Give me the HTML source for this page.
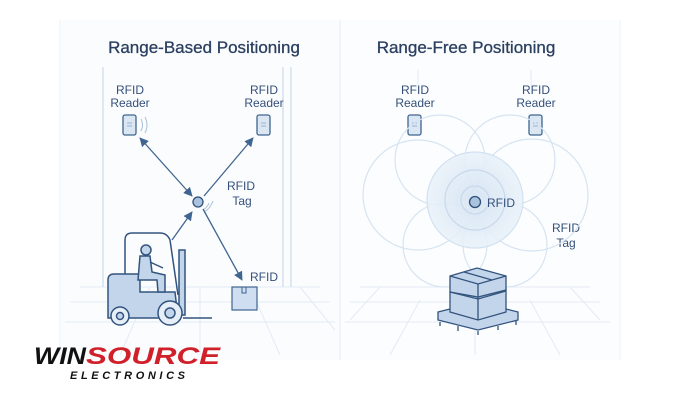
<!DOCTYPE html>
<html><head><meta charset="utf-8"><style>
html,body{margin:0;padding:0;background:#fff;}
svg{display:block;font-family:"Liberation Sans",sans-serif;}
</style></head><body>
<svg width="700" height="400" viewBox="0 0 700 400" xmlns="http://www.w3.org/2000/svg">
<defs>
<marker id="a" viewBox="0 0 10 10" refX="9" refY="5" markerWidth="7" markerHeight="7" orient="auto-start-reverse"><path d="M0,0 L10,5 L0,10 z" fill="#3f6590"/></marker>
<radialGradient id="g"><stop offset="0" stop-color="#d5e4f3"/><stop offset="1" stop-color="#eaf2fa"/></radialGradient>
</defs>
<rect width="700" height="400" fill="#fff"/>
<rect x="60" y="20" width="280" height="340" fill="#fbfcfe"/>
<rect x="340" y="20" width="280" height="340" fill="#fcfdfe"/>
<line x1="60" y1="20" x2="60" y2="360" stroke="#eef2f8"/>
<line x1="340" y1="20" x2="340" y2="360" stroke="#e6edf6"/>
<line x1="620" y1="20" x2="620" y2="360" stroke="#eef2f8"/>
<g stroke="#e3ebf5" stroke-width="1">
<line x1="80" y1="287" x2="320" y2="287"/><line x1="70" y1="302" x2="330" y2="302"/><line x1="65" y1="322" x2="335" y2="322"/>
<line x1="200" y1="287" x2="200" y2="355"/><line x1="150" y1="287" x2="120" y2="355"/><line x1="250" y1="287" x2="280" y2="355"/><line x1="300" y1="287" x2="335" y2="330"/>
<line x1="360" y1="287" x2="590" y2="287"/><line x1="350" y1="302" x2="600" y2="302"/><line x1="345" y1="322" x2="610" y2="322"/>
<line x1="475" y1="330" x2="475" y2="355"/><line x1="420" y1="300" x2="390" y2="355"/><line x1="530" y1="300" x2="560" y2="355"/><line x1="380" y1="287" x2="350" y2="320"/><line x1="570" y1="287" x2="600" y2="320"/>
</g>
<g stroke="#dfe7f2" stroke-width="2"><line x1="103" y1="67" x2="103" y2="287"/><line x1="283" y1="67" x2="283" y2="287"/><line x1="291" y1="67" x2="291" y2="287"/></g>
<line x1="418" y1="70" x2="418" y2="85" stroke="#e3ebf5"/><line x1="531" y1="70" x2="531" y2="85" stroke="#e3ebf5"/>
<text x="204" y="53" text-anchor="middle" font-size="17" fill="#2b3f60" stroke="#2b3f60" stroke-width="0.3">Range-Based Positioning</text>
<text x="466" y="53" text-anchor="middle" font-size="17" fill="#2b3f60" stroke="#2b3f60" stroke-width="0.3">Range-Free Positioning</text>
<g font-size="12" fill="#35507a" text-anchor="middle">
<text x="130" y="94">RFID</text><text x="130" y="107">Reader</text>
<text x="264" y="94">RFID</text><text x="264" y="107">Reader</text>
<text x="241" y="190">RFID</text><text x="242" y="205">Tag</text>
<text x="264" y="281">RFID</text>
<text x="415" y="94">RFID</text><text x="415" y="107">Reader</text>
<text x="536" y="94">RFID</text><text x="536" y="107">Reader</text>
<text x="566" y="232">RFID</text><text x="566" y="247">Tag</text>
</g>
<g fill="#dbe6f3" stroke="#3f6590" stroke-width="1.3">
<rect x="123" y="115" width="13" height="20" rx="2"/><rect x="257" y="115" width="13" height="20" rx="2"/>
<rect x="408" y="115" width="13" height="20" rx="2"/><rect x="529" y="115" width="13" height="20" rx="2"/>
</g>
<g stroke="#8aa6c6" stroke-width="0.8"><line x1="127" y1="123" x2="132" y2="123"/><line x1="127" y1="126" x2="132" y2="126"/><line x1="261" y1="123" x2="266" y2="123"/><line x1="261" y1="126" x2="266" y2="126"/><line x1="412" y1="123" x2="417" y2="123"/><line x1="412" y1="126" x2="417" y2="126"/><line x1="533" y1="123" x2="538" y2="123"/><line x1="533" y1="126" x2="538" y2="126"/></g>
<path d="M141,119 q3,6 0,12 M145,117 q4,8 0,16" fill="none" stroke="#a9bfd8" stroke-width="1"/>
<path d="M209,203 q-2,5 -6,7 M213,201 q-3,8 -9,11" fill="none" stroke="#a9bfd8" stroke-width="1"/>
<g stroke="#3f6590" stroke-width="1.3" fill="none">
<line x1="140" y1="138" x2="192" y2="196" marker-start="url(#a)" marker-end="url(#a)"/>
<line x1="204" y1="196" x2="253" y2="138" marker-end="url(#a)"/>
<line x1="172" y1="240" x2="192" y2="212" marker-end="url(#a)"/>
<line x1="203" y1="209" x2="242" y2="280" marker-end="url(#a)"/>
</g>
<circle cx="198" cy="202" r="5" fill="#a9c3df" stroke="#2f4f78" stroke-width="1.3"/>
<rect x="232" y="287" width="25" height="23" fill="#cfdef0" stroke="#3f6590" stroke-width="1.2"/>
<rect x="242" y="287" width="4" height="6" fill="none" stroke="#3f6590"/>
<g stroke="#33547e" stroke-width="1.5" fill="#c3d5ea">
<path d="M125,275 L125,240 Q125,233 132,233 L160,233 Q167,233 170,240 L178,295" fill="none"/>
<rect x="179" y="250" width="6" height="65"/>
<path d="M108,280 Q108,274 114,274 L140,274 L140,292 L175,292 L178,318 L108,318 Z"/>
<line x1="183" y1="318" x2="212" y2="318"/>
<circle cx="120" cy="316" r="9" fill="#e6eef8"/><circle cx="120" cy="316" r="3.5"/>
<circle cx="170" cy="313" r="12" fill="#e6eef8"/><circle cx="170" cy="313" r="5"/>
<circle cx="146" cy="250" r="5"/>
<path d="M140,256 L150,256 L152,272 L165,275 L165,292 L158,292 L157,280 L138,280 Z"/>
<line x1="150" y1="262" x2="163" y2="268"/>
</g>
<g fill="none" stroke="#d6e4f2" stroke-width="1.2">
<circle cx="418" cy="195" r="55"/><circle cx="532" cy="195" r="56"/>
<circle cx="440" cy="160" r="45"/><circle cx="510" cy="160" r="45"/>
<circle cx="445" cy="245" r="42"/><circle cx="505" cy="245" r="42"/>
</g>
<circle cx="475" cy="200" r="48" fill="url(#g)" stroke="#cfdfef" stroke-width="1.2" opacity="0.9"/>
<circle cx="475" cy="200" r="30" fill="none" stroke="#c6d8ec" stroke-width="1.2"/>
<circle cx="475" cy="200" r="14" fill="none" stroke="#c6d8ec" stroke-width="1.2"/>
<circle cx="475" cy="202" r="5.5" fill="#a9c3df" stroke="#2f4f78" stroke-width="1.3"/>
<text x="487" y="207" font-size="12" fill="#35507a">RFID</text>
<g stroke="#33547e" stroke-width="1.3" fill="#c3d5ea">
<path d="M438,312 L478,302 L518,312 L518,320 L478,330 L438,320 Z"/>
<path d="M440,322 L440,326 M458,326 L458,331 M478,331 L478,335 M498,326 L498,330 M516,321 L516,325" fill="none"/>
<path d="M450,292 L450,312 L478,320 L506,312 L506,290 L478,297 Z"/>
<path d="M450,276 L477,268 L506,276 L506,290 L478,297 L450,292 Z"/>
<path d="M450,276 L478,284 L506,276 M478,284 L478,320 M464,272 L492,280" fill="none"/>
<path d="M450,292 L478,299 L506,291" fill="none"/>
</g>
<text x="34" y="364" font-size="24" font-weight="bold" font-style="italic" fill="#111" textLength="52" lengthAdjust="spacingAndGlyphs">WIN</text>
<text x="86" y="364" font-size="24" font-weight="bold" font-style="italic" fill="#d0202a" textLength="134" lengthAdjust="spacingAndGlyphs">SOURCE</text>
<text x="70" y="379" font-size="11" font-weight="bold" font-style="italic" fill="#111" textLength="115">ELECTRONICS</text>
</svg>
</body></html>
